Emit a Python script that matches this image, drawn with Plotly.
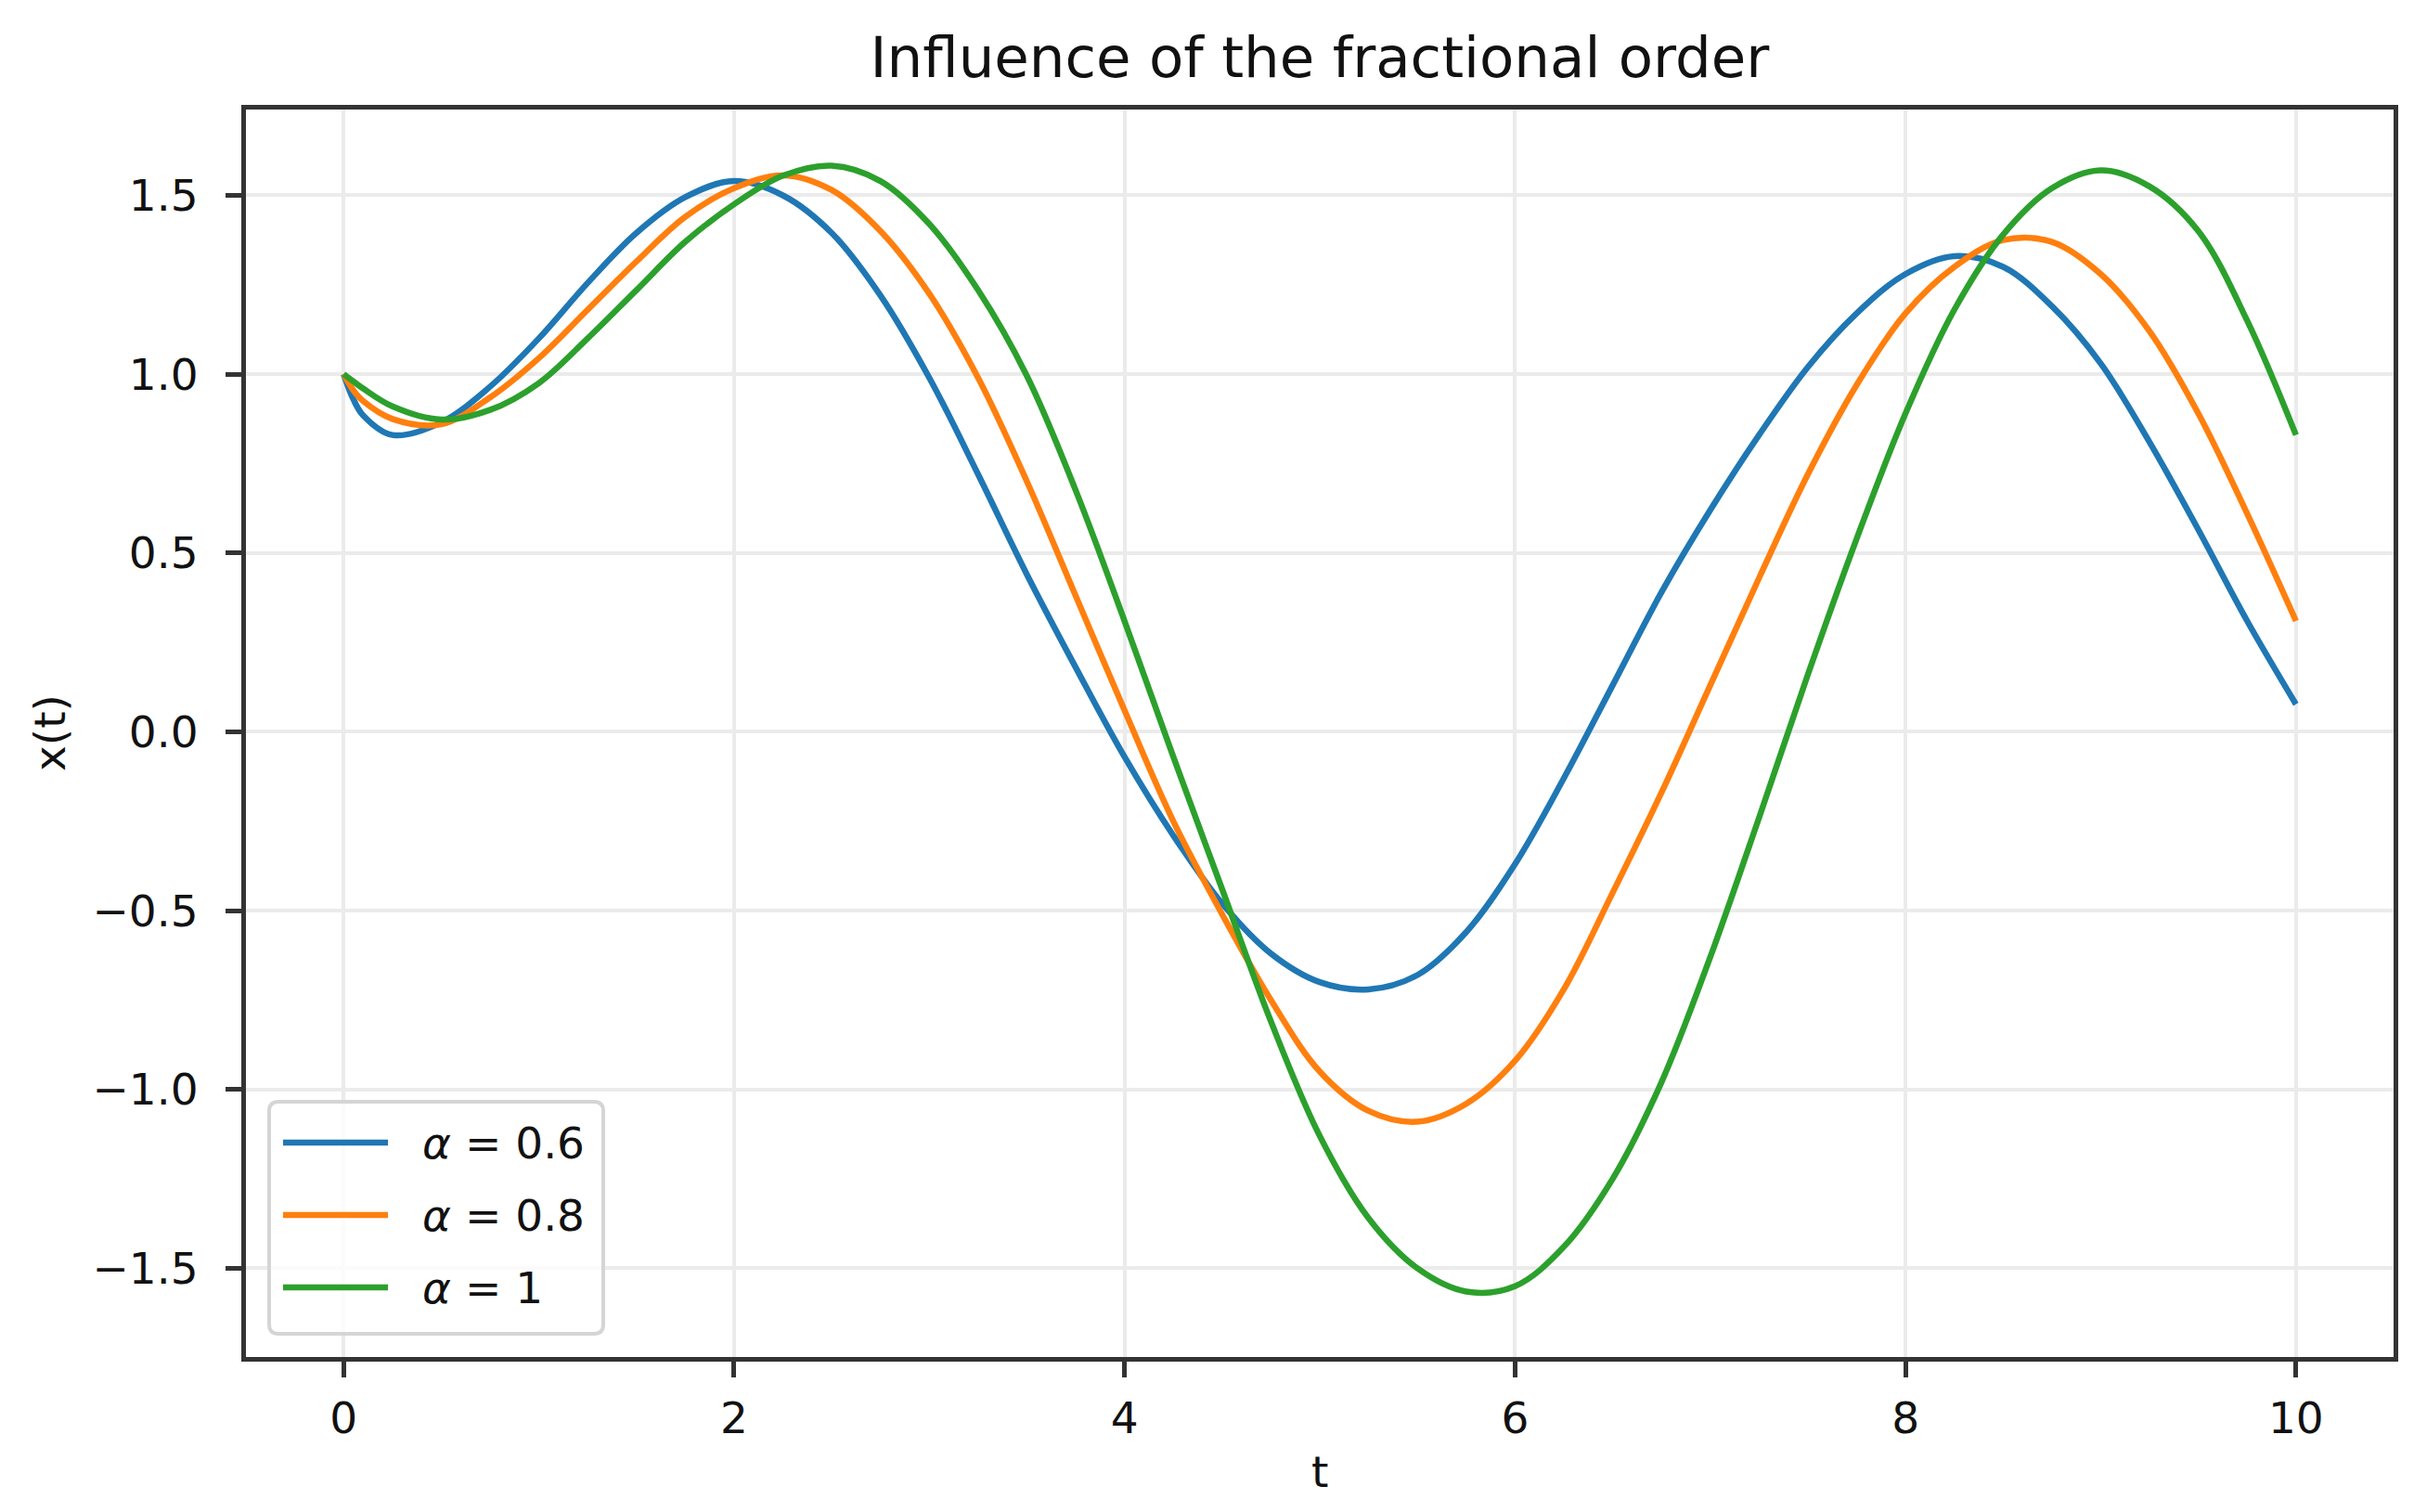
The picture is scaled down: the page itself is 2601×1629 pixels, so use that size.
import plotly.graph_objects as go

# ---- data ----
t = [0, 0.05, 0.1, 0.25, 0.5, 0.75, 1.0, 1.25, 1.5, 1.75, 2.0, 2.25, 2.5, 2.75,
     3.0, 3.25, 3.5, 3.75, 4.0, 4.25, 4.5, 4.75, 5.0, 5.25, 5.5, 5.75, 6.0, 6.25,
     6.5, 6.75, 7.0, 7.25, 7.5, 7.75, 8.0, 8.25, 8.5, 8.75, 9.0, 9.25, 9.5, 9.75, 10.0]

x_alpha_06 = [1.00, 0.93, 0.885, 0.83, 0.865, 0.965, 1.10, 1.255, 1.395, 1.495,
              1.54, 1.50, 1.395, 1.22, 0.99, 0.72, 0.44, 0.18, -0.07, -0.29,
              -0.48, -0.62, -0.70, -0.72, -0.68, -0.56, -0.37, -0.13, 0.13, 0.39,
              0.62, 0.83, 1.02, 1.17, 1.28, 1.33, 1.30, 1.19, 1.03, 0.81,
              0.565, 0.31, 0.077]

x_alpha_08 = [1.00, 0.955, 0.925, 0.875, 0.86, 0.935, 1.045, 1.18, 1.315, 1.44,
              1.52, 1.556, 1.515, 1.40, 1.225, 0.99, 0.70, 0.38, 0.06, -0.25,
              -0.51, -0.75, -0.95, -1.06, -1.09, -1.04, -0.92, -0.72, -0.45, -0.17,
              0.13, 0.43, 0.72, 0.97, 1.17, 1.30, 1.375, 1.37, 1.28, 1.12,
              0.89, 0.61, 0.31]

x_alpha_1 = [1.00, 0.98, 0.96, 0.91, 0.873, 0.90, 0.975, 1.10, 1.235, 1.37,
             1.475, 1.555, 1.583, 1.54, 1.42, 1.235, 0.995, 0.675, 0.31, -0.07,
             -0.44, -0.81, -1.13, -1.36, -1.50, -1.565, -1.55, -1.44, -1.25, -0.98,
             -0.63, -0.24, 0.16, 0.54, 0.89, 1.18, 1.39, 1.52, 1.57, 1.525,
             1.40, 1.15, 0.83]

series_names = ["<i>α</i> = 0.6", "<i>α</i> = 0.8", "<i>α</i> = 1"]
series_values = [x_alpha_06, x_alpha_08, x_alpha_1]
series_colors = ["#1f77b4", "#ff7f0e", "#2ca02c"]

x_tickvals = [0, 2, 4, 6, 8, 10]
x_ticktext = ["0", "2", "4", "6", "8", "10"]
y_tickvals = [-1.5, -1.0, -0.5, 0.0, 0.5, 1.0, 1.5]
y_ticktext = ["\u22121.5", "\u22121.0", "\u22120.5", "0.0", "0.5", "1.0", "1.5"]

title_text = "Influence of the fractional order"
x_title = "t"
y_title = "x(t)"

# ---- layout geometry (pixels) ----
W, H = 2601, 1629
L, R, T, B = 257, 2571, 110, 1454
PW, PH = R - L, B - T
FONT = "DejaVu Sans"
LW = 6.5


def px(xp):
    return (xp - L) / PW


def py(yp):
    return (B - yp) / PH


fig = go.Figure()
for name, vals, col in zip(series_names, series_values, series_colors):
    fig.add_trace(go.Scatter(
        x=t, y=vals, mode="lines", name=name,
        line=dict(color=col, width=LW, shape="spline", smoothing=1.0),
        showlegend=False,
    ))

axis_common = dict(
    showline=True, linecolor="#333333", linewidth=5, mirror=True,
    showgrid=True, gridcolor="#ebebeb", gridwidth=4, zeroline=False,
    ticks="outside", ticklen=17, tickwidth=5, tickcolor="#333333",
    tickfont=dict(family=FONT, size=47, color="#111111"),
)

fig.update_xaxes(range=[-0.5, 10.5], tickmode="array", tickvals=x_tickvals,
                 ticktext=x_ticktext, ticklabelstandoff=4, **axis_common)
fig.update_yaxes(range=[-1.748, 1.740], tickmode="array", tickvals=y_tickvals,
                 ticktext=y_ticktext, ticklabelstandoff=20, **axis_common)

# ---- custom legend (matplotlib style) ----
bx0, bx1, by0, by1 = 282, 642, 1179, 1429
r = 10
rx, ry = r / PW, r / PH
X0, X1, Y0, Y1 = px(bx0), px(bx1), py(by1), py(by0)
path = (f"M {X0+rx},{Y0} L {X1-rx},{Y0} Q {X1},{Y0} {X1},{Y0+ry} "
        f"L {X1},{Y1-ry} Q {X1},{Y1} {X1-rx},{Y1} L {X0+rx},{Y1} "
        f"Q {X0},{Y1} {X0},{Y1-ry} L {X0},{Y0+ry} Q {X0},{Y0} {X0+rx},{Y0} Z")
shapes = [dict(type="path", path=path, xref="paper", yref="paper",
               fillcolor="rgba(255,255,255,0.8)",
               line=dict(color="#d5d5d5", width=4), layer="above")]
annotations = []
row_y = [1223, 1301, 1379]
for name, col, ry_px in zip(series_names, series_colors, row_y):
    shapes.append(dict(type="line", xref="paper", yref="paper",
                       x0=px(297), x1=px(410), y0=py(ry_px), y1=py(ry_px),
                       line=dict(color=col, width=LW), layer="above"))
    annotations.append(dict(text=name, xref="paper", yref="paper",
                            x=px(445), y=py(ry_px), xanchor="left", yanchor="middle",
                            showarrow=False,
                            font=dict(family=FONT, size=47, color="#111111")))

# axis titles
annotations.append(dict(text=x_title, xref="paper", yref="paper", x=0.5, y=py(1578),
                        xanchor="center", yanchor="middle", showarrow=False,
                        font=dict(family=FONT, size=47, color="#111111")))
annotations.append(dict(text=y_title, xref="paper", yref="paper", x=px(45), y=0.5,
                        xanchor="center", yanchor="middle", showarrow=False, textangle=-90,
                        font=dict(family=FONT, size=47, color="#111111")))

fig.update_layout(
    width=W, height=H,
    margin=dict(l=L, r=W - R, t=T, b=H - B, pad=0),
    paper_bgcolor="white", plot_bgcolor="white",
    title=dict(text=title_text, x=0.5, xref="paper", xanchor="center",
               y=1 - 54 / H, yref="container", yanchor="middle",
               font=dict(family=FONT, size=61, color="#111111")),
    shapes=shapes, annotations=annotations, showlegend=False,
)

fig.write_html("out.html")
